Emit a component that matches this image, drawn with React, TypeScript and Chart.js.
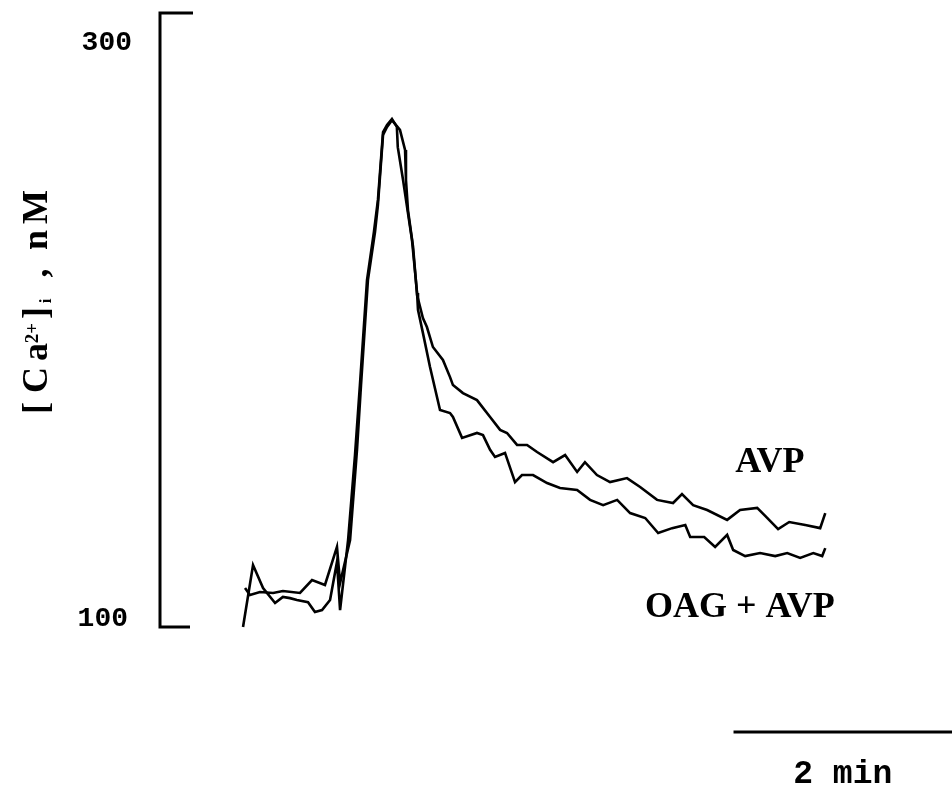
import React, { useEffect, useRef } from "react";
import { Chart, registerables } from "chart.js";

Chart.register(...registerables);

// ---- data (time in s, [Ca2+]i in nM) ----
const TIME_MIN = -45;
const TIME_MAX = 390;
const CONC_MIN = 100;
const CONC_MAX = 300;
const yTickValues = [100, 300];
const yTickLabels = ["100", "300"];

const avpTime = [1.7, 4.4, 9.9, 17.1, 22.5, 31.9, 38.5, 45.6, 52.2, 53.9, 59.4, 63.2, 65.4, 69.2, 73.1, 74.7, 77.5, 79.7, 82.4, 86.8, 89.6, 90.1, 91.2, 94.0, 96.2, 99.4, 101.6, 104.9, 110.4, 114.3, 115.9, 121.4, 129.1, 136.3, 141.8, 145.6, 151.1, 156.6, 162.1, 170.9, 177.5, 184.1, 188.4, 195.0, 202.2, 211.5, 218.7, 228.0, 236.8, 241.7, 247.8, 255.5, 266.5, 273.6, 283.0, 287.4, 294.5, 300.6, 309.4, 317.6, 320.4];
const avpConc = [112.7, 110.4, 111.4, 111.1, 111.7, 111.1, 115.3, 113.7, 126.1, 114.3, 128.3, 157.7, 178.8, 213.0, 228.7, 237.5, 260.3, 262.9, 265.1, 261.9, 255.4, 245.6, 235.8, 223.8, 208.1, 200.6, 197.7, 191.2, 187.0, 181.4, 178.8, 176.2, 173.9, 168.4, 164.2, 163.2, 159.3, 159.3, 157.0, 153.7, 156.0, 150.5, 153.7, 149.5, 147.2, 148.5, 145.6, 141.4, 140.4, 143.3, 139.7, 138.1, 134.9, 138.1, 138.8, 136.2, 131.9, 134.2, 133.2, 132.2, 137.1];

const oagTime = [0.6, 6.1, 11.6, 18.2, 22.5, 26.4, 30.2, 36.3, 40.1, 44.0, 48.4, 52.2, 53.9, 58.3, 62.1, 64.8, 68.7, 72.5, 74.7, 77.5, 79.7, 82.4, 85.1, 85.6, 88.5, 90.7, 93.4, 96.2, 96.7, 99.4, 103.3, 108.8, 114.3, 115.9, 120.9, 129.1, 132.4, 136.3, 139.0, 144.5, 150.0, 153.8, 159.9, 167.6, 174.7, 184.1, 191.2, 198.4, 206.1, 213.2, 221.5, 228.6, 236.3, 243.5, 246.2, 253.9, 259.9, 266.5, 269.8, 276.4, 284.6, 292.9, 299.5, 306.6, 313.8, 318.7, 320.4];
const oagConc = [100.0, 120.2, 112.7, 107.8, 109.8, 109.4, 108.8, 108.1, 104.9, 105.5, 108.8, 121.2, 105.5, 128.3, 156.0, 178.8, 213.0, 228.7, 239.1, 261.2, 263.5, 265.5, 262.9, 256.3, 245.6, 236.8, 226.1, 208.8, 203.3, 195.8, 184.7, 170.7, 169.7, 168.4, 161.6, 163.2, 162.5, 157.7, 155.4, 156.7, 147.2, 149.5, 149.5, 146.9, 145.3, 144.6, 141.4, 139.7, 141.4, 137.1, 135.5, 130.6, 132.2, 133.2, 129.3, 129.3, 126.1, 130.0, 125.1, 123.1, 124.1, 123.1, 124.1, 122.5, 124.1, 123.1, 125.7];

const seriesNames = ["AVP", "OAG + AVP"];
const seriesLabelTime = [290, 273.5];
const seriesLabelConc = [150.5, 103.3];

const scaleBarStart = 270;
const scaleBarLength = 120;
const scaleBarLabel = "2 min";

const zip = (xs: number[], ys: number[]) => xs.map((x, i) => ({ x, y: ys[i] }));

const annotations = {
  id: "annotations",
  afterDraw(chart: any) {
    const { ctx, chartArea, scales } = chart;
    const x = scales.x;
    const y = scales.y;
    const L = chartArea.left;
    const yTop = y.getPixelForValue(CONC_MAX);
    const yBot = y.getPixelForValue(CONC_MIN);
    ctx.save();
    ctx.strokeStyle = "#000";
    ctx.fillStyle = "#000";

    // bracket axis
    ctx.lineWidth = 3;
    ctx.lineJoin = "miter";
    ctx.beginPath();
    ctx.moveTo(L + 33, yTop);
    ctx.lineTo(L, yTop);
    ctx.lineTo(L, yBot);
    ctx.lineTo(L + 30, yBot);
    ctx.stroke();

    // tick labels
    ctx.font = "bold 28px 'Liberation Mono', monospace";
    ctx.textAlign = "right";
    ctx.textBaseline = "alphabetic";
    yTickValues.forEach((v, i) => {
      const py = y.getPixelForValue(v);
      if (v === CONC_MAX) ctx.fillText(yTickLabels[i], L - 28, py + 37);
      else ctx.fillText(yTickLabels[i], L - 32, py - 1);
    });

    // y title (rotated), pieces
    const mid = (chartArea.top + chartArea.bottom) / 2;
    ctx.save();
    ctx.rotate(-Math.PI / 2);
    ctx.textAlign = "center";
    const pieces: [string, number, number, number][] = [
      ["[", 88, 113, 36],
      ["C", 60, 113, 36],
      ["a", 32, 113, 36],
      ["2+", 13, 122, 19],
      ["]", -7, 113, 36],
      ["i", -19, 109, 17],
      [",", -47, 113, 36],
      ["n", -80, 113, 36],
      ["M", -113, 113, 36],
    ];
    pieces.forEach(([t, dy, dx, sz]) => {
      ctx.font = `bold ${sz}px 'Liberation Serif', serif`;
      ctx.fillText(t, -(mid + dy), L - dx);
    });
    ctx.restore();

    // series labels
    ctx.font = "bold 36px 'Liberation Serif', serif";
    ctx.textAlign = "center";
    ctx.textBaseline = "alphabetic";
    seriesNames.forEach((n, i) => {
      ctx.fillText(n, x.getPixelForValue(seriesLabelTime[i]), y.getPixelForValue(seriesLabelConc[i]));
    });

    // scale bar
    const x0 = x.getPixelForValue(scaleBarStart);
    const x1 = x.getPixelForValue(scaleBarStart + scaleBarLength);
    ctx.lineWidth = 3;
    ctx.beginPath();
    ctx.moveTo(x0, yBot + 105);
    ctx.lineTo(x1, yBot + 105);
    ctx.stroke();
    ctx.font = "bold 33px 'Liberation Mono', monospace";
    ctx.textAlign = "center";
    ctx.fillText(scaleBarLabel, (x0 + x1) / 2, yBot + 156);
    ctx.restore();
  },
};

export default function App() {
  const ref = useRef<HTMLCanvasElement | null>(null);
  useEffect(() => {
    if (!ref.current) return;
    const chart = new Chart(ref.current, {
      type: "line",
      data: {
        datasets: [
          {
            label: seriesNames[0],
            data: zip(avpTime, avpConc),
            borderColor: "#000",
            borderWidth: 2.6,
            pointRadius: 0,
            tension: 0,
            clip: false,
          },
          {
            label: seriesNames[1],
            data: zip(oagTime, oagConc),
            borderColor: "#000",
            borderWidth: 2.6,
            pointRadius: 0,
            tension: 0,
            clip: false,
          },
        ],
      },
      options: {
        animation: false,
        responsive: false,
        layout: { padding: { left: 160, top: 13, right: 0, bottom: 166 } },
        plugins: { legend: { display: false }, tooltip: { enabled: false } },
        scales: {
          x: { type: "linear", min: TIME_MIN, max: TIME_MAX, display: false },
          y: { type: "linear", min: CONC_MIN, max: CONC_MAX, display: false },
        },
      },
      plugins: [annotations],
    });
    return () => chart.destroy();
  }, []);
  return (
    <div style={{ position: "absolute", left: 0, top: 0, width: 952, height: 793, background: "#fff" }}>
      <canvas ref={ref} width={952} height={793} style={{ display: "block" }} />
    </div>
  );
}
